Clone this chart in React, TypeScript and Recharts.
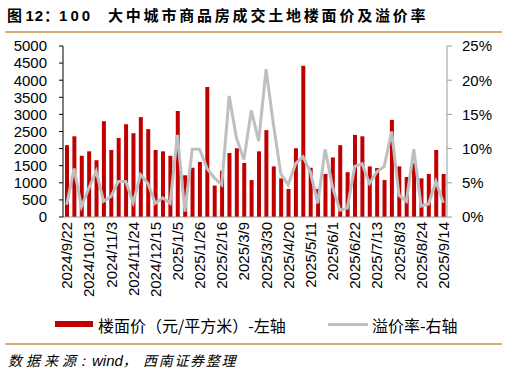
import { Bar, ComposedChart, Line, XAxis, YAxis } from "recharts";

const weeks = [
  "2024/9/22", "2024/9/29", "2024/10/6", "2024/10/13", "2024/10/20", "2024/10/27", "2024/11/3", "2024/11/10",
  "2024/11/17", "2024/11/24", "2024/12/1", "2024/12/8", "2024/12/15", "2024/12/22", "2024/12/29", "2025/1/5",
  "2025/1/12", "2025/1/19", "2025/1/26", "2025/2/2", "2025/2/9", "2025/2/16", "2025/2/23", "2025/3/2",
  "2025/3/9", "2025/3/16", "2025/3/23", "2025/3/30", "2025/4/6", "2025/4/13", "2025/4/20", "2025/4/27",
  "2025/5/4", "2025/5/11", "2025/5/18", "2025/5/25", "2025/6/1", "2025/6/8", "2025/6/15", "2025/6/22",
  "2025/6/29", "2025/7/6", "2025/7/13", "2025/7/20", "2025/7/27", "2025/8/3", "2025/8/10", "2025/8/17",
  "2025/8/24", "2025/8/31", "2025/9/7", "2025/9/14",
];

// 楼面价 (元/平方米)
const floorPrice = [
  2100, 2360, 1790, 1920, 1660, 2800, 1960, 2310, 2710, 2450, 2920, 2570, 1960, 1920, 1790, 3100,
  1220, 1440, 1610, 3800, 920, 1350, 1870, 2010, 1580, 1080, 1920, 2540, 1480, 1130, 820, 2010,
  4420, 1440, 820, 1260, 1740, 2100, 1310, 2400, 2360, 1480, 1430, 1080, 2840, 1480, 1170, 1570,
  1130, 1260, 1960, 1260,
];

// 溢价率 (%)
const premium = [
  1.8, 7.1, 1.5, 4.2, 6.7, 2.3, 3.0, 5.2, 5.2, 2.1, 6.2, 4.9, 2.0, 2.8, 2.0, 12.0,
  0.8, 9.9, 9.9, 7.1, 5.7, 4.7, 17.7, 11.5, 8.4, 15.6, 11.1, 21.6, 13.5, 6.3, 4.7, 7.8,
  8.8, 6.6, 2.0, 9.9, 4.4, 1.0, 1.3, 7.4, 7.8, 4.9, 6.6, 7.4, 12.5, 3.2, 2.3, 9.9,
  1.6, 1.9, 5.2, 2.1,
];

const leftTicks = [0, 500, 1000, 1500, 2000, 2500, 3000, 3500, 4000, 4500, 5000];
const rightTicks = [0, 5, 10, 15, 20, 25];
const boundaryTicks = [0, 5, 10, 15, 20, 25, 30, 35, 40, 45, 50];

const data = weeks.map((week, i) => ({ week, price: floorPrice[i], rate: premium[i] }));

const latin = "'Liberation Sans', Arial, sans-serif";
const cjk = "'Noto Sans CJK SC', 'Liberation Sans', sans-serif";
const tan = "#D6AE78";

function DateTick({ x, y, payload }: any) {
  return (
    <text
      x={x}
      y={y}
      transform={`rotate(-90 ${x} ${y})`}
      textAnchor="end"
      dominantBaseline="central"
      fontSize={15}
      fontFamily={latin}
      fill="#000"
    >
      {payload.value}
    </text>
  );
}

const abs = (left: number, top: number, extra: any = {}) => ({
  position: "absolute" as const,
  left,
  top,
  whiteSpace: "nowrap" as const,
  ...extra,
});

export default function App() {
  return (
    <div style={{ position: "absolute", left: 0, top: 0, width: 507, height: 376, background: "#fff", overflow: "hidden" }}>
      {/* title */}
      <div style={abs(7, 5, { fontSize: 15, fontWeight: 700, fontFamily: cjk, lineHeight: "20px" })}>
        图 <span style={{ fontFamily: latin, letterSpacing: 1 }}>12</span>：
        <span style={{ fontFamily: latin, letterSpacing: 3 }}>100</span>
      </div>
      <div style={abs(108, 5, { fontSize: 15, fontWeight: 700, fontFamily: cjk, lineHeight: "20px", letterSpacing: 2.8 })}>
        大中城市商品房成交土地楼面价及溢价率
      </div>
      <div style={{ position: "absolute", left: 5, top: 31, width: 497, height: 2, background: tan }} />

      <div style={{ position: "absolute", left: 0, top: 0 }}>
        <ComposedChart width={507} height={310} data={data} margin={{ top: 46, right: 0, left: 0, bottom: 0 }}>
          <XAxis
            xAxisId="bounds"
            type="number"
            domain={[0, 52]}
            ticks={boundaryTicks}
            interval={0}
            height={0}
            axisLine={false}
            tickSize={5}
            tickLine={{ stroke: "#999" }}
            tick={() => <g />}
          />
          <XAxis
            xAxisId="cat"
            dataKey="week"
            interval={2}
            height={93}
            tickSize={0}
            tickMargin={5}
            axisLine={{ stroke: "#999" }}
            tickLine={false}
            tick={<DateTick />}
          />
          <YAxis
            yAxisId="left"
            domain={[0, 5000]}
            ticks={leftTicks}
            interval={0}
            width={63}
            tickSize={4}
            tickMargin={12}
            axisLine={{ stroke: "#000" }}
            tickLine={{ stroke: "#000" }}
            tick={{ fill: "#000", fontSize: 15, fontFamily: latin }}
          />
          <YAxis
            yAxisId="right"
            orientation="right"
            domain={[0, 25]}
            ticks={rightTicks}
            interval={0}
            width={60}
            tickSize={5}
            tickMargin={10}
            tickFormatter={(v) => `${v}%`}
            axisLine={{ stroke: "#999" }}
            tickLine={{ stroke: "#999" }}
            tick={{ fill: "#000", fontSize: 15, fontFamily: latin, textAnchor: "start" }}
          />
          <Bar xAxisId="cat" yAxisId="left" dataKey="price" fill="#C00000" barSize={4} isAnimationActive={false} />
          <Line
            xAxisId="cat"
            yAxisId="right"
            dataKey="rate"
            type="linear"
            stroke="#BFBFBF"
            strokeWidth={3}
            dot={false}
            activeDot={false}
            isAnimationActive={false}
          />
        </ComposedChart>
      </div>

      {/* legend */}
      <div style={{ position: "absolute", left: 55, top: 321, width: 38, height: 6, background: "#C00000" }} />
      <div style={abs(98, 314, { fontSize: 16, fontFamily: cjk, lineHeight: "22px" })}>楼面价（元/平方米）-左轴</div>
      <div style={{ position: "absolute", left: 328, top: 323, width: 40, height: 3, background: "#BFBFBF" }} />
      <div style={abs(372, 314, { fontSize: 16, fontFamily: cjk, lineHeight: "22px" })}>溢价率-右轴</div>

      {/* source */}
      <div style={{ position: "absolute", left: 5, top: 343, width: 497, height: 2, background: tan }} />
      <div style={abs(8, 350, { fontSize: 14, fontStyle: "italic", fontFamily: cjk, lineHeight: "20px", letterSpacing: 4 })}>
        数据来源<span style={{ letterSpacing: 0, fontSize: 12 }}>：</span>
      </div>
      <div style={abs(92, 350, { fontSize: 15, fontStyle: "italic", fontFamily: latin, lineHeight: "20px" })}>
        wind<span style={{ fontFamily: cjk, fontSize: 14 }}>，</span>
      </div>
      <div style={abs(143, 350, { fontSize: 14, fontStyle: "italic", fontFamily: cjk, lineHeight: "20px", letterSpacing: 1.7 })}>
        西南证券整理
      </div>
    </div>
  );
}
